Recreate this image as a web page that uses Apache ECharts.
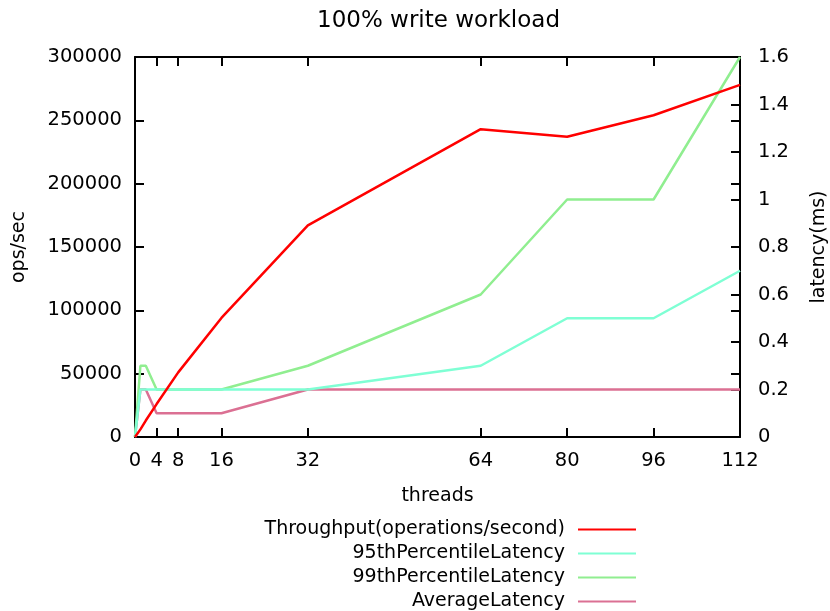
<!DOCTYPE html>
<html>
<head>
<meta charset="utf-8">
<script src="https://cdn.jsdelivr.net/npm/echarts@6/dist/echarts.min.js"></script>
<style>
    html, body { margin: 0; padding: 0; background: #fff; }
    #write-workload { width: 830px; height: 611px; }
</style>
</head>
<body>
<div id="write-workload"></div>
<script>
    // threads on the x axis
    const threads = [0, 1, 2, 4, 8, 16, 32, 64, 80, 96, 112];
    const threadTicks = [0, 4, 8, 16, 32, 64, 80, 96, 112];
    // ops/sec
    const throughput = [0, 6000, 13000, 26000, 51000, 94000, 167000, 243000, 237000, 254000, 278000];
    // latency(ms)
    const p95Latency = [0, 0.2, 0.2, 0.2, 0.2, 0.2, 0.2, 0.3, 0.5, 0.5, 0.7];
    const p99Latency = [0, 0.3, 0.3, 0.2, 0.2, 0.2, 0.3, 0.6, 1.0, 1.0, 1.6];
    const avgLatency = [0, 0.2, 0.2, 0.1, 0.1, 0.1, 0.2, 0.2, 0.2, 0.2, 0.2];

    const seriesNames = ['Throughput(operations/second)', '95thPercentileLatency', '99thPercentileLatency', 'AverageLatency'];
    const seriesColors = ['#ff0000', '#7fffd4', '#90ee90', '#db7093'];

    const font = 'DejaVu Sans';
    const pairs = (ys) => threads.map((t, i) => [t, ys[i]]);

    const chart = echarts.init(document.getElementById('write-workload'));

    // one legend per row so the texts right-align against the line samples
    const legends = seriesNames.map((name, i) => ({
        data: [name],
        right: 194,
        top: 520 + i * 24,
        orient: 'vertical',
        align: 'right',
        padding: 0,
        icon: 'rect',
        itemWidth: 58,
        itemHeight: 2,
        selectedMode: false,
        textStyle: { fontFamily: font, fontSize: 19, color: '#000', padding: [0, 8, 0, 0] }
    }));

    const tick = (extra) => Object.assign({
        show: true, inside: true, length: 9, lineStyle: { color: '#000', width: 2 }
    }, extra || {});
    // left and bottom axes sit at zero anyway; right and top must not snap to zero
    const frame = () => ({ show: true, lineStyle: { color: '#000', width: 2 } });
    const frameFixed = () => ({ show: true, onZero: false, lineStyle: { color: '#000', width: 2 } });
    const gridBox = () => ({ left: 135, right: 90, top: 57, bottom: 174, outerBoundsMode: 'none' });

    const option = {
        animation: false,
        color: seriesColors,
        title: {
            text: '100% write workload',
            left: 312,
            top: 5,
            textStyle: { fontFamily: font, fontSize: 23, fontWeight: 'normal', color: '#000' }
        },
        legend: legends,
        grid: [gridBox(), gridBox()],
        xAxis: [
            {
                type: 'value',
                gridIndex: 0,
                min: 0,
                max: 112,
                name: 'threads',
                nameLocation: 'middle',
                nameGap: 50,
                nameTextStyle: { fontFamily: font, fontSize: 19, color: '#000' },
                axisLine: frame(),
                axisTick: tick({ customValues: threadTicks }),
                axisLabel: { customValues: threadTicks, fontFamily: font, fontSize: 19.5, color: '#000', margin: 14 },
                splitLine: { show: false }
            },
            {
                type: 'value',
                gridIndex: 0,
                position: 'top',
                min: 0,
                max: 112,
                axisLine: frameFixed(),
                axisTick: tick({ customValues: threadTicks }),
                axisLabel: { show: false },
                splitLine: { show: false }
            },
            {
                // helper x axis for the overlay grid
                type: 'value',
                gridIndex: 1,
                min: 0,
                max: 112,
                show: false
            }
        ],
        yAxis: [
            {
                type: 'value',
                gridIndex: 0,
                position: 'left',
                min: 0,
                max: 300000,
                interval: 50000,
                name: 'ops/sec',
                nameLocation: 'middle',
                nameRotate: 90,
                nameGap: 106,
                nameTextStyle: { fontFamily: font, fontSize: 19, color: '#000' },
                axisLine: frame(),
                axisTick: tick(),
                axisLabel: { fontFamily: font, fontSize: 19.5, color: '#000', margin: 13, formatter: (v) => String(v) },
                splitLine: { show: false }
            },
            {
                type: 'value',
                gridIndex: 0,
                position: 'right',
                min: 0,
                max: 1.6,
                interval: 0.2,
                name: 'latency(ms)',
                nameLocation: 'middle',
                nameRotate: 90,
                nameGap: 70,
                nameTextStyle: { fontFamily: font, fontSize: 19, color: '#000' },
                axisLine: frameFixed(),
                axisTick: tick(),
                axisLabel: { fontFamily: font, fontSize: 19.5, color: '#000', margin: 18 },
                splitLine: { show: false }
            },
            {
                // mirrored ops/sec ticks on the right border
                type: 'value',
                gridIndex: 1,
                position: 'right',
                min: 0,
                max: 300000,
                interval: 50000,
                axisLine: { show: false, onZero: false },
                axisTick: tick(),
                axisLabel: { show: false },
                splitLine: { show: false }
            }
        ],
        series: [
            { name: seriesNames[0], type: 'line', yAxisIndex: 0, data: pairs(throughput) },
            { name: seriesNames[1], type: 'line', yAxisIndex: 1, data: pairs(p95Latency) },
            { name: seriesNames[2], type: 'line', yAxisIndex: 1, data: pairs(p99Latency) },
            { name: seriesNames[3], type: 'line', yAxisIndex: 1, data: pairs(avgLatency) }
        ].map((s, i) => Object.assign(s, {
            symbol: 'none',
            lineStyle: { width: 2.5, color: seriesColors[i] },
            z: 10 - i
        }))
    };

    chart.setOption(option);
</script>
</body>
</html>
